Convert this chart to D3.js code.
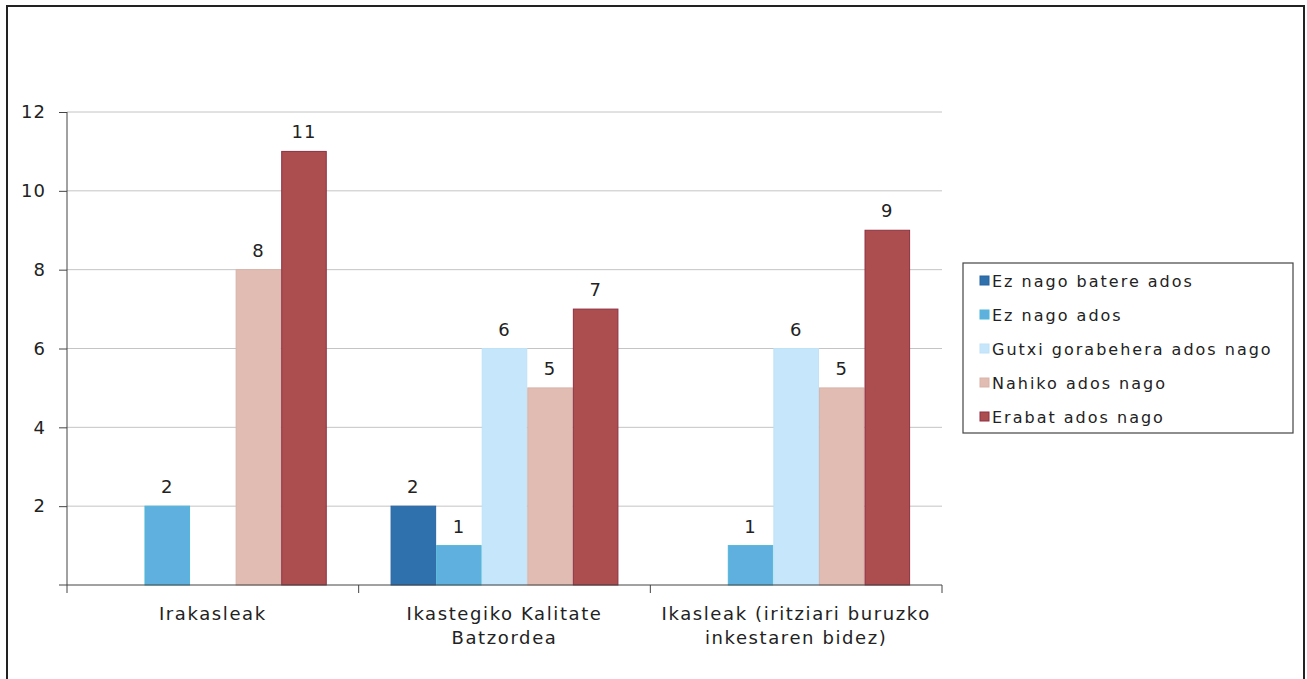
<!DOCTYPE html>
<html>
<head>
    <script src="https://cdn.jsdelivr.net/npm/d3@7"></script>
    <style>
        body { margin: 0; background: #fff; }
        svg text { font-family: "DejaVu Sans", Verdana, sans-serif; fill: #222; }
    </style>
</head>
<body>
    <svg width="1307" height="679"></svg>
    <script>
        // Chart data
        const categories = ["Irakasleak", "Ikastegiko Kalitate Batzordea", "Ikasleak (iritziari buruzko inkestaren bidez)"];
        const categoryLines = [["Irakasleak"], ["Ikastegiko Kalitate", "Batzordea"], ["Ikasleak (iritziari buruzko", "inkestaren bidez)"]];
        const seriesNames = ["Ez nago batere ados", "Ez nago ados", "Gutxi gorabehera ados nago", "Nahiko ados nago", "Erabat ados nago"];
        const irakasleak = [0, 2, 0, 8, 11];
        const batzordea = [2, 1, 6, 5, 7];
        const ikasleak = [0, 1, 6, 5, 9];
        const yTicks = [2, 4, 6, 8, 10, 12];
        const colors = ["#2f71ad", "#60b0df", "#c6e6fb", "#e0bcb3", "#ac4d50"];
        const strokes = ["#2a65a0", "#4fb8d8", "#bfe2f7", "#d9b3aa", "#8e3142"];

        const values = [irakasleak, batzordea, ikasleak];

        const svg = d3.select("svg");

        // outer frame
        svg.append("rect")
            .attr("x", 7).attr("y", 6)
            .attr("width", 1297).attr("height", 690)
            .attr("fill", "none")
            .attr("stroke", "#222")
            .attr("stroke-width", 2);

        const margin = { left: 67, top: 112, right: 942, bottom: 585 };

        const x = d3.scaleBand()
            .domain(categories)
            .range([margin.left, margin.right]);

        const xs = d3.scaleBand()
            .domain(seriesNames)
            .range([0, x.bandwidth()])
            .paddingOuter(0.7);

        const y = d3.scaleLinear()
            .domain([0, 12])
            .range([margin.bottom, margin.top]);

        // gridlines
        svg.append("g")
            .selectAll("line")
            .data(yTicks)
            .enter().append("line")
            .attr("x1", margin.left).attr("x2", margin.right)
            .attr("y1", d => y(d)).attr("y2", d => y(d))
            .attr("stroke", "#c4c4c4")
            .attr("stroke-width", 1);

        // y axis
        const yAxis = svg.append("g")
            .attr("transform", `translate(${margin.left},0)`)
            .call(d3.axisLeft(y).tickValues(yTicks).tickSize(8).tickPadding(13));
        yAxis.select(".domain").attr("stroke", "#444").attr("d", `M0,${margin.top}V${margin.bottom}`);
        yAxis.selectAll(".tick line").attr("stroke", "#444");
        yAxis.selectAll(".tick text")
            .style("font-size", "18px")
            .style("letter-spacing", "1px")
            .attr("fill", "#222");

        // bars
        const groups = svg.append("g")
            .selectAll("g")
            .data(categories)
            .enter().append("g")
            .attr("transform", d => `translate(${x(d)},0)`);

        const rows = (d, i) => values[i].map((v, j) => ({ name: seriesNames[j], value: v, j })).filter(e => e.value > 0);

        groups.selectAll("rect")
            .data(rows)
            .enter().append("rect")
            .attr("x", d => xs(d.name) + 0.5)
            .attr("y", d => y(d.value))
            .attr("width", xs.bandwidth() - 1)
            .attr("height", d => y(0) - y(d.value))
            .attr("fill", d => colors[d.j])
            .attr("stroke", d => strokes[d.j])
            .attr("stroke-width", 1);

        groups.selectAll("text.val")
            .data(rows)
            .enter().append("text")
            .attr("class", "val")
            .attr("x", d => xs(d.name) + xs.bandwidth() / 2)
            .attr("y", d => y(d.value) - 13)
            .attr("text-anchor", "middle")
            .style("font-size", "18px")
            .style("letter-spacing", "1px")
            .text(d => d.value);

        // x axis
        const xAxis = svg.append("g")
            .attr("transform", `translate(0,${margin.bottom})`);
        xAxis.append("line")
            .attr("x1", margin.left - 8).attr("x2", margin.right)
            .attr("stroke", "#444");
        xAxis.selectAll("line.tick")
            .data([...categories.map(c => x(c)), margin.right])
            .enter().append("line")
            .attr("class", "tick")
            .attr("x1", d => d).attr("x2", d => d)
            .attr("y1", 0).attr("y2", 8)
            .attr("stroke", "#444");

        xAxis.selectAll("text")
            .data(categories)
            .enter().append("text")
            .attr("x", d => x(d) + x.bandwidth() / 2)
            .attr("y", 35)
            .attr("text-anchor", "middle")
            .style("font-size", "18px")
            .style("letter-spacing", "1.6px")
            .selectAll("tspan")
            .data((d, i) => categoryLines[i])
            .enter().append("tspan")
            .attr("x", function () { return d3.select(this.parentNode).attr("x"); })
            .attr("dy", (d, i) => i === 0 ? 0 : 24)
            .text(d => d);

        // legend
        const legend = svg.append("g").attr("transform", "translate(963,263)");
        legend.append("rect")
            .attr("width", 330).attr("height", 170)
            .attr("fill", "#fff")
            .attr("stroke", "#444")
            .attr("stroke-width", 1.2);

        const item = legend.selectAll("g.item")
            .data(seriesNames)
            .enter().append("g")
            .attr("class", "item")
            .attr("transform", (d, i) => `translate(17,${18 + i * 34})`);
        item.append("rect")
            .attr("x", 0).attr("y", -5)
            .attr("width", 9).attr("height", 9)
            .attr("fill", (d, i) => colors[i])
            .attr("stroke", (d, i) => strokes[i]);
        item.append("text")
            .attr("x", 12).attr("y", 0)
            .attr("dy", "0.35em")
            .style("font-size", "16px")
            .style("letter-spacing", "2px")
            .text(d => d);
    </script>
</body>
</html>
